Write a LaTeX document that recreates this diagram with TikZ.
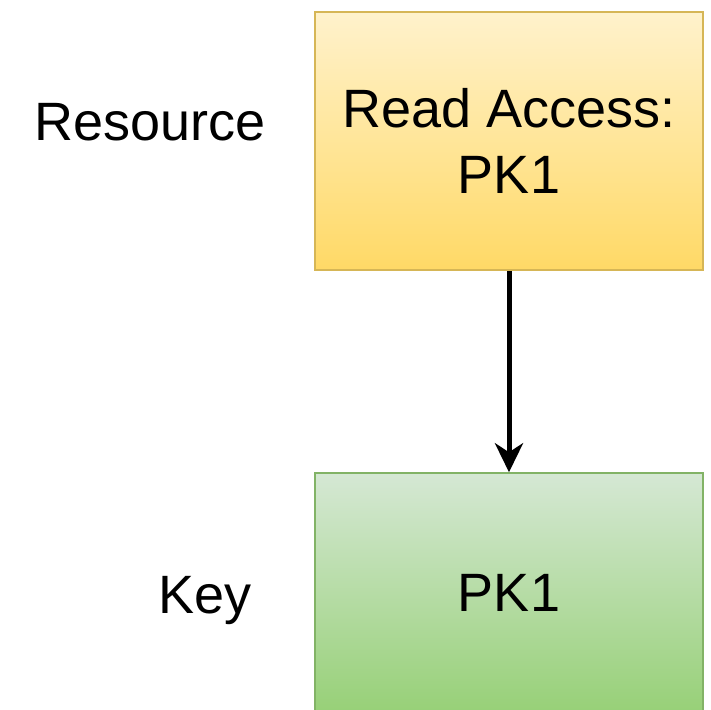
\documentclass[tikz,border=0pt]{standalone}
\usepackage{fontspec}
\setmainfont{Liberation Sans}
\usetikzlibrary{arrows.meta, positioning}
\definecolor{restop}{HTML}{FFF2CC}
\definecolor{resbot}{HTML}{FFD966}
\definecolor{resline}{HTML}{D6B656}
\definecolor{keytop}{HTML}{D5E8D4}
\definecolor{keybot}{HTML}{97D077}
\definecolor{keyline}{HTML}{82B366}

\begin{document}
\begin{tikzpicture}[x=1pt, y=1pt,
  box/.style={draw, line width=1.5pt, minimum width=388pt, inner sep=0pt,
              align=center, font=\fontsize{54}{66}\selectfont},
  sidelabel/.style={inner sep=0pt, anchor=base, font=\fontsize{54}{66}\selectfont}]
\useasboundingbox (0,0) rectangle (711,-709);
\clip (0,0) rectangle (711,-709);
\node[box, top color=restop, bottom color=resbot, draw=resline, minimum height=258pt]
  (access) at (509,-141) {Read Access:\\PK1};
\node[box, top color=keytop, bottom color=keybot, draw=keyline, minimum height=240pt]
  (pk) at (509,-593) {PK1};
\node[sidelabel] (reslabel) at (150,-140) {Resource};
\node[sidelabel] (keylabel) at (205,-613) {Key};
\draw[-{Stealth[length=29pt, width=28pt, inset=9pt]}, line width=5pt] (access) -- (pk);
\end{tikzpicture}
\end{document}
